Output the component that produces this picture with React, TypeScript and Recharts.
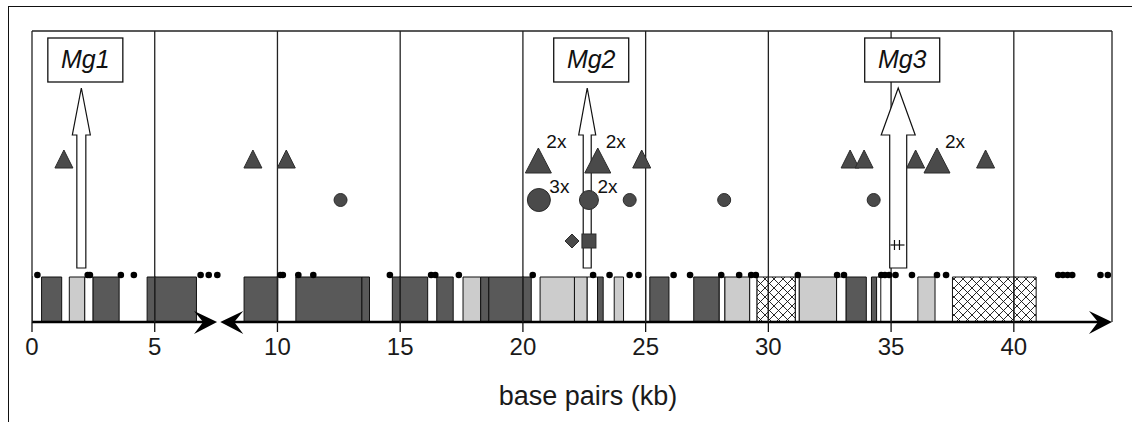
import React from "react";
import {
  ComposedChart,
  XAxis,
  YAxis,
  Scatter,
  ReferenceArea,
  ReferenceLine,
  ReferenceDot,
  Label,
} from "recharts";

const FONT = '"Liberation Sans", Arial, Helvetica, sans-serif';

// x axis (kb)
const TICKS = [0, 5, 10, 15, 20, 25, 30, 35, 40];
const AXIS_END = 44;
const BREAK_LEFT = 7.54;
const BREAK_RIGHT = 7.67;

// Mg insertions
const MG_NAMES = ["Mg1", "Mg2", "Mg3"];
const MG_POS = [2.01, 22.62, 35.29];

// triangles (count = multiplicity)
const TRIANGLE_POS = [1.3, 9.0, 10.36, 20.63, 23.05, 24.84, 33.33, 33.9, 36.0, 36.87, 38.85];
const TRIANGLE_COUNT = [1, 1, 1, 2, 2, 1, 1, 1, 1, 2, 1];

// circles
const CIRCLE_POS = [12.57, 20.65, 22.69, 24.35, 28.2, 34.29];
const CIRCLE_COUNT = [1, 3, 2, 1, 1, 1];

// other motifs
const DIAMOND_POS = [22.0];
const SQUARE_POS = [22.69];
const CROSS_POS = [35.26];

// small black dots
const DOT_POS = [
  0.22, 2.27, 2.36, 3.62, 4.15, 6.87, 7.2, 7.55, 10.12, 10.22, 10.85, 11.46,
  14.58, 16.26, 16.43, 17.39, 20.4, 22.86, 23.53, 24.35, 24.71, 26.14, 26.81,
  28.08, 28.81, 29.3, 29.49, 31.2, 32.8, 33.08, 34.6, 34.75, 34.92, 35.18,
  35.85, 36.87, 37.24, 41.81, 42.0, 42.19, 42.38, 43.53, 43.83,
];

// gene blocks
const GENE_START = [
  0.39, 1.52, 2.15, 2.49, 4.69, 8.64, 10.75, 13.44, 14.68, 16.49, 17.56, 18.28,
  18.61, 20.7, 22.1, 22.62, 23.04, 23.72, 25.17, 26.96, 28.0, 28.23, 29.24,
  29.54, 31.1, 31.26, 32.78, 33.17, 34.2, 34.41, 36.09, 37.5,
];
const GENE_END = [
  1.21, 2.15, 2.49, 3.55, 6.7, 10.01, 13.44, 13.75, 16.12, 17.16, 18.28, 18.61,
  20.34, 22.1, 22.62, 23.04, 23.27, 24.1, 25.95, 28.0, 28.23, 29.24, 29.54,
  31.1, 31.26, 32.78, 33.17, 33.99, 34.41, 34.58, 36.79, 40.91,
];
const GENE_KIND = [
  "dark", "light", "white", "dark", "dark", "dark", "dark", "dark", "dark", "dark", "light", "dark",
  "dark", "light", "light", "white", "dark", "light", "dark", "dark", "white", "light", "white",
  "hatch", "white", "light", "white", "dark", "dark", "white", "light", "hatch",
];

// layout (px above the axis line, y domain is 1px per unit)
const PLOT_H = 291;
const GENE_TOP = 45;
const TRACK_TRIANGLE = 163;
const TRACK_CIRCLE = 122;
const TRACK_MOTIF = 81;
const TRACK_CROSS = 77;
const TRACK_DOT = 47;

const GENE_FILL: Record<string, string> = {
  dark: "#595959",
  light: "#cccccc",
  white: "#ffffff",
  hatch: "url(#hatch)",
};
const ARROW_W: Record<string, [number, number]> = {
  Mg1: [9, 4.5],
  Mg2: [8.5, 4],
  Mg3: [17, 8.5],
};
const SYM_FILL = "#4a4a4a";
const SYM_STROKE = "#2b2b2b";

const gridData = TICKS.map((x) => ({ x, y: 0 }));
const mgData = MG_NAMES.map((name, i) => ({ x: MG_POS[i], y: 0, name }));
const triData = TRIANGLE_POS.map((x, i) => ({ x, y: TRACK_TRIANGLE, count: TRIANGLE_COUNT[i] }));
const circleData = CIRCLE_POS.map((x, i) => ({ x, y: TRACK_CIRCLE, count: CIRCLE_COUNT[i] }));
const diamondData = DIAMOND_POS.map((x) => ({ x, y: TRACK_MOTIF }));
const squareData = SQUARE_POS.map((x) => ({ x, y: TRACK_MOTIF }));
const crossData = CROSS_POS.map((x) => ({ x, y: TRACK_CROSS }));
const dotData = DOT_POS.map((x) => ({ x, y: TRACK_DOT }));

// gridline redrawn over the gene track (reference areas paint above reference lines)
const GridOverlay = (props: any) => (
  <line x1={props.cx} x2={props.cx} y1={props.cy} y2={props.cy - GENE_TOP - 1} stroke="#222" strokeWidth={1.3} />
);

const MgArrow = (props: any) => {
  const { cx, cy, payload } = props;
  const [hw, sw] = ARROW_W[payload.name];
  const bx = cx + 4;
  const path = `M${cx},${cy - 234} L${cx + hw},${cy - 187} L${cx + sw},${cy - 187} L${cx + sw},${cy - 54} L${cx - sw},${cy - 54} L${cx - sw},${cy - 187} L${cx - hw},${cy - 187} Z`;
  return (
    <g>
      <path d={path} fill="#fff" stroke="#111" strokeWidth={1.2} />
      <rect x={bx - 37.5} y={cy - 284} width={75} height={44} fill="#fff" stroke="#111" strokeWidth={1.3} />
      <text x={bx} y={cy - 254} textAnchor="middle" fontSize={25} fontStyle="italic" fontFamily={FONT} fill="#111">
        {payload.name}
      </text>
    </g>
  );
};

const Triangle = (props: any) => {
  const { cx, cy, payload } = props;
  const big = payload.count > 1;
  const pts = big
    ? `${cx},${cy - 11} ${cx + 13},${cy + 14} ${cx - 13},${cy + 14}`
    : `${cx},${cy - 9} ${cx + 9},${cy + 9} ${cx - 9},${cy + 9}`;
  return (
    <g>
      <polygon points={pts} fill={SYM_FILL} stroke={SYM_STROKE} strokeWidth={1} />
      {big && (
        <text x={cx + 8} y={cy - 11} fontSize={19} fontFamily={FONT} fill="#111">
          {payload.count}x
        </text>
      )}
    </g>
  );
};

const CIRCLE_R = [0, 6.5, 9.5, 11.5];
const Circle = (props: any) => {
  const { cx, cy, payload } = props;
  const r = CIRCLE_R[payload.count];
  return (
    <g>
      <circle cx={cx} cy={cy} r={r} fill={SYM_FILL} stroke={SYM_STROKE} strokeWidth={1} />
      {payload.count > 1 && (
        <text x={cx + r - 1} y={cy - 7} fontSize={19} fontFamily={FONT} fill="#111">
          {payload.count}x
        </text>
      )}
    </g>
  );
};

const Diamond = (props: any) => {
  const { cx, cy } = props;
  return (
    <polygon
      points={`${cx},${cy - 7} ${cx + 7},${cy} ${cx},${cy + 7} ${cx - 7},${cy}`}
      fill={SYM_FILL}
      stroke={SYM_STROKE}
    />
  );
};

const Square = (props: any) => {
  const { cx, cy } = props;
  return <rect x={cx - 7} y={cy - 7} width={14} height={14} fill={SYM_FILL} stroke={SYM_STROKE} />;
};

const Cross = (props: any) => {
  const { cx, cy } = props;
  return (
    <g stroke="#111" strokeWidth={1.2}>
      <line x1={cx - 7} y1={cy} x2={cx + 7} y2={cy} />
      <line x1={cx - 3} y1={cy - 5} x2={cx - 3} y2={cy + 5} />
      <line x1={cx + 2} y1={cy - 5} x2={cx + 2} y2={cy + 5} />
    </g>
  );
};

const Dot = (props: any) => <circle cx={props.cx} cy={props.cy} r={3.3} fill="#000" />;

const headRight = (props: any) => {
  const { cx, cy } = props;
  return <path d={`M${cx},${cy} L${cx - 23},${cy - 11} L${cx - 14},${cy} L${cx - 23},${cy + 12} Z`} fill="#000" />;
};
const headLeft = (props: any) => {
  const { cx, cy } = props;
  return <path d={`M${cx},${cy} L${cx + 23},${cy - 11} L${cx + 14},${cy} L${cx + 23},${cy + 12} Z`} fill="#000" />;
};

export default function App() {
  return (
    <div style={{ position: "relative", width: 1132, height: 422, background: "#fff", fontFamily: FONT }}>
      <style>{"body{margin:0}"}</style>
      <div
        style={{
          position: "absolute",
          left: 8,
          top: 6,
          width: 1140,
          height: 430,
          borderLeft: "1.5px solid #111",
          borderTop: "1.5px solid #111",
        }}
      />
      <div style={{ position: "absolute", left: 0, top: 0 }}>
        <ComposedChart width={1132} height={422} margin={{ top: 31, right: 20, bottom: 0, left: 32 }}>
          <defs>
            <pattern id="hatch" patternUnits="userSpaceOnUse" width={9} height={9}>
              <rect width={9} height={9} fill="#fff" />
              <path d="M0,0 L9,9 M9,0 L0,9" stroke="#111" strokeWidth={0.9} />
            </pattern>
          </defs>
          <XAxis
            dataKey="x"
            type="number"
            domain={[0, AXIS_END]}
            ticks={TICKS}
            allowDataOverflow
            axisLine={false}
            tickLine={{ stroke: "#111", strokeWidth: 1.3 }}
            tickSize={10}
            tickMargin={6}
            height={100}
            tick={{ fontSize: 24, fill: "#1a1a1a", fontFamily: FONT }}
          >
            <Label
              value="base pairs (kb)"
              position="insideBottom"
              offset={17}
              dx={16}
              fontSize={27}
              fill="#1a1a1a"
              fontFamily={FONT}
            />
          </XAxis>
          <YAxis dataKey="y" type="number" domain={[0, PLOT_H]} hide allowDataOverflow />

          {GENE_START.map((s, i) => (
            <ReferenceArea
              key={`g${i}`}
              x1={s}
              x2={GENE_END[i]}
              y1={0}
              y2={GENE_TOP}
              fill={GENE_FILL[GENE_KIND[i]]}
              fillOpacity={1}
              stroke="#111"
              strokeWidth={1}
              ifOverflow="extendDomain"
            />
          ))}

          {TICKS.map((t) => (
            <ReferenceLine key={`v${t}`} x={t} stroke="#222" strokeWidth={1.3} />
          ))}
          <ReferenceLine x={AXIS_END} stroke="#222" strokeWidth={1.3} />
          <ReferenceLine y={PLOT_H} stroke="#222" strokeWidth={1.3} />

          <ReferenceLine
            segment={[{ x: 0, y: 0 }, { x: BREAK_LEFT - 0.3, y: 0 }]}
            stroke="#000"
            strokeWidth={2.6}
          />
          <ReferenceLine
            segment={[{ x: BREAK_RIGHT + 0.3, y: 0 }, { x: AXIS_END - 0.4, y: 0 }]}
            stroke="#000"
            strokeWidth={2.6}
          />
          <ReferenceDot x={BREAK_LEFT} y={0} shape={headRight} />
          <ReferenceDot x={BREAK_RIGHT} y={0} shape={headLeft} />
          <ReferenceDot x={AXIS_END} y={0} shape={headRight} />

          <Scatter data={gridData} shape={GridOverlay} isAnimationActive={false} />
          <Scatter data={mgData} shape={MgArrow} isAnimationActive={false} />
          <Scatter data={dotData} shape={Dot} isAnimationActive={false} />
          <Scatter data={triData} shape={Triangle} isAnimationActive={false} />
          <Scatter data={circleData} shape={Circle} isAnimationActive={false} />
          <Scatter data={diamondData} shape={Diamond} isAnimationActive={false} />
          <Scatter data={squareData} shape={Square} isAnimationActive={false} />
          <Scatter data={crossData} shape={Cross} isAnimationActive={false} />
        </ComposedChart>
      </div>
    </div>
  );
}
